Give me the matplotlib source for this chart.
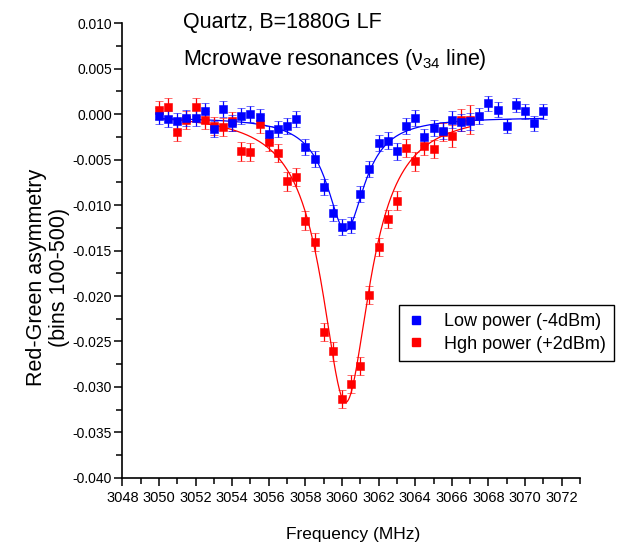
import numpy as np
import matplotlib
matplotlib.use("Agg")
import matplotlib.pyplot as plt
from matplotlib.ticker import MultipleLocator, FormatStrFormatter
from matplotlib.lines import Line2D

REG = "Liberation Sans"
plt.rcParams["font.family"] = [REG, "DejaVu Sans"]
plt.rcParams["axes.unicode_minus"] = False
plt.rcParams["mathtext.fontset"] = "custom"
plt.rcParams["mathtext.rm"] = REG
plt.rcParams["mathtext.it"] = REG

# ---------------- data ----------------
freq_low = [3050.0, 3050.5, 3051.0, 3051.5, 3052.0, 3052.5, 3053.0, 3053.5, 3054.0, 3054.5,
            3055.0, 3055.5, 3056.0, 3056.5, 3057.0, 3057.5, 3058.0, 3058.5, 3059.0, 3059.5,
            3060.0, 3060.5, 3061.0, 3061.5, 3062.0, 3062.5, 3063.0, 3063.5, 3064.0, 3064.5,
            3065.0, 3065.5, 3066.0, 3066.5, 3067.0, 3067.5, 3068.0, 3068.5, 3069.0, 3069.5,
            3070.0, 3070.5, 3071.0]
asym_low = [-0.0002, -0.0005, -0.0008, -0.0004, -0.0004, 0.0003, -0.0016, 0.0006, -0.0010, -0.0002,
            0.0000, -0.0003, -0.0022, -0.0016, -0.0013, -0.0005, -0.0036, -0.0049, -0.0080, -0.0109,
            -0.0124, -0.0122, -0.0088, -0.0060, -0.0032, -0.0029, -0.0041, -0.0013, -0.0004, -0.0025,
            -0.0015, -0.0018, -0.0006, -0.0009, -0.0008, -0.0002, 0.0012, 0.0005, -0.0013, 0.0010,
            0.0003, -0.0010, 0.0003]
err_low = [0.0009, 0.0009, 0.0009, 0.0009, 0.0009, 0.0009, 0.0009, 0.0009, 0.0009, 0.0009,
           0.0009, 0.0009, 0.0009, 0.0009, 0.0009, 0.0009, 0.0009, 0.0009, 0.0009, 0.0009,
           0.0009, 0.0009, 0.0009, 0.0009, 0.0009, 0.0009, 0.0009, 0.0009, 0.0009, 0.0009,
           0.0009, 0.0009, 0.0009, 0.0009, 0.0009, 0.0009, 0.0008, 0.0008, 0.0008, 0.0008,
           0.0008, 0.0008, 0.0008]

freq_high = [3050.0, 3050.5, 3051.0, 3051.5, 3052.0, 3052.5, 3053.0, 3053.5, 3054.0, 3054.5,
             3055.0, 3055.5, 3056.0, 3056.5, 3057.0, 3057.5, 3058.0, 3058.5, 3059.0, 3059.5,
             3060.0, 3060.5, 3061.0, 3061.5, 3062.0, 3062.5, 3063.0, 3063.5, 3064.0, 3064.5,
             3065.0, 3065.5, 3066.0, 3066.5, 3067.0]
asym_high = [0.0005, 0.0008, -0.0020, -0.0006, 0.0008, -0.0006, -0.0013, -0.0014, -0.0008, -0.0041,
             -0.0042, -0.0011, -0.0031, -0.0043, -0.0074, -0.0069, -0.0117, -0.0141, -0.0240, -0.0261,
             -0.0313, -0.0297, -0.0277, -0.0199, -0.0146, -0.0115, -0.0095, -0.0037, -0.0052, -0.0035,
             -0.0038, -0.0020, -0.0024, -0.0006, -0.0006]
err_high = [0.0010, 0.0010, 0.0010, 0.0010, 0.0010, 0.0010, 0.0010, 0.0010, 0.0010, 0.0010,
            0.0010, 0.0010, 0.0010, 0.0010, 0.0010, 0.0010, 0.0010, 0.0010, 0.0010, 0.0010,
            0.0010, 0.0010, 0.0010, 0.0010, 0.0010, 0.0010, 0.0010, 0.0010, 0.0010, 0.0010,
            0.0010, 0.0010, 0.0012, 0.0012, 0.0016]

# Lorentzian fit parameters: baseline, depth, centre, half width
fit_low = dict(base=-0.0003, depth=0.0125, x0=3060.2, hw=1.25, xmin=3050.0, xmax=3071.0)
fit_high = dict(base=0.0003, depth=0.0320, x0=3060.2, hw=1.60, xmin=3050.0, xmax=3067.0)

label_low = "Low power (-4dBm)"
label_high = "Hgh power (+2dBm)"
title1 = "Quartz, B=1880G LF"
title2 = "Mcrowave resonances (ν$_{34}$ line)"

BLUE = "#0000ff"
RED = "#ff0000"

def lorentz(p):
    x = np.linspace(p["xmin"], p["xmax"], 600)
    y = p["base"] - p["depth"] / (1.0 + ((x - p["x0"]) / p["hw"]) ** 2)
    return x, y

# ---------------- figure ----------------
W, H = 619, 548
fig = plt.figure(figsize=(W / 100, H / 100), dpi=100)
L, R, T, B = 122.3, 580.0, 23.3, 477.8
ax = fig.add_axes([L / W, 1 - B / H, (R - L) / W, (B - T) / H])

for (fx, fy, fe, fp, c) in [(freq_high, asym_high, err_high, fit_high, RED),
                             (freq_low, asym_low, err_low, fit_low, BLUE)]:
    xx, yy = lorentz(fp)
    ax.plot(xx, yy, color=c, lw=0.9, zorder=2)
    ax.errorbar(fx, fy, yerr=fe, fmt="s", color=c, ms=6.4, mec=c, mew=0.4,
                ecolor=c, elinewidth=0.9, capsize=3.0, capthick=0.9, zorder=3)

ax.set_xlim(3048, 3073)
ax.set_ylim(-0.040, 0.010)
ax.xaxis.set_major_locator(MultipleLocator(2))
ax.xaxis.set_minor_locator(MultipleLocator(1))
ax.yaxis.set_major_locator(MultipleLocator(0.005))
ax.yaxis.set_minor_locator(MultipleLocator(0.0025))
ax.yaxis.set_major_formatter(FormatStrFormatter("%.3f"))
ax.xaxis.set_major_formatter(FormatStrFormatter("%d"))

for s in ["top", "right"]:
    ax.spines[s].set_visible(False)
for s in ["left", "bottom"]:
    ax.spines[s].set_linewidth(1.2)
ax.tick_params(which="major", direction="out", length=6, width=1.1)
ax.tick_params(which="minor", direction="out", length=4, width=1.1)
ax.tick_params(axis="y", which="major", pad=1.5, labelsize=10)
ax.tick_params(axis="x", which="major", pad=3.5, labelsize=10.5)

ax.set_xlabel("Frequency (MHz)", fontsize=12.5)
ax.xaxis.set_label_coords((352.7 - L) / (R - L), -(527 - B) / (B - T))
ax.set_ylabel("Red-Green asymmetry\n(bins 100-500)", fontsize=15.5, linespacing=1.1,
              multialignment="center")
ax.yaxis.set_label_coords(-(L - 70) / (R - L), (B - 277) / (B - T))

fig.text(183 / W, 1 - 28.3 / H, title1, fontsize=15.5, va="baseline", ha="left")
fig.text(183 / W, 1 - 65 / H, title2, fontsize=15.5, va="baseline", ha="left")

handles = [Line2D([], [], ls="none", marker="s", ms=5.5, color=BLUE, mec=BLUE),
           Line2D([], [], ls="none", marker="s", ms=5.5, color=RED, mec=RED)]
leg = fig.legend(handles, [label_low, label_high], loc="upper left",
                 bbox_to_anchor=(399.3 / W, 1 - 305 / H), bbox_transform=fig.transFigure,
                 frameon=True, fancybox=False, edgecolor="black", framealpha=1,
                 prop=dict(size=13),
                 handlelength=1.0, handletextpad=1.0, borderpad=0.45, labelspacing=0.3,
                 borderaxespad=0.0)
leg.get_frame().set_linewidth(1.0)

fig.savefig("out.png", dpi=100)
